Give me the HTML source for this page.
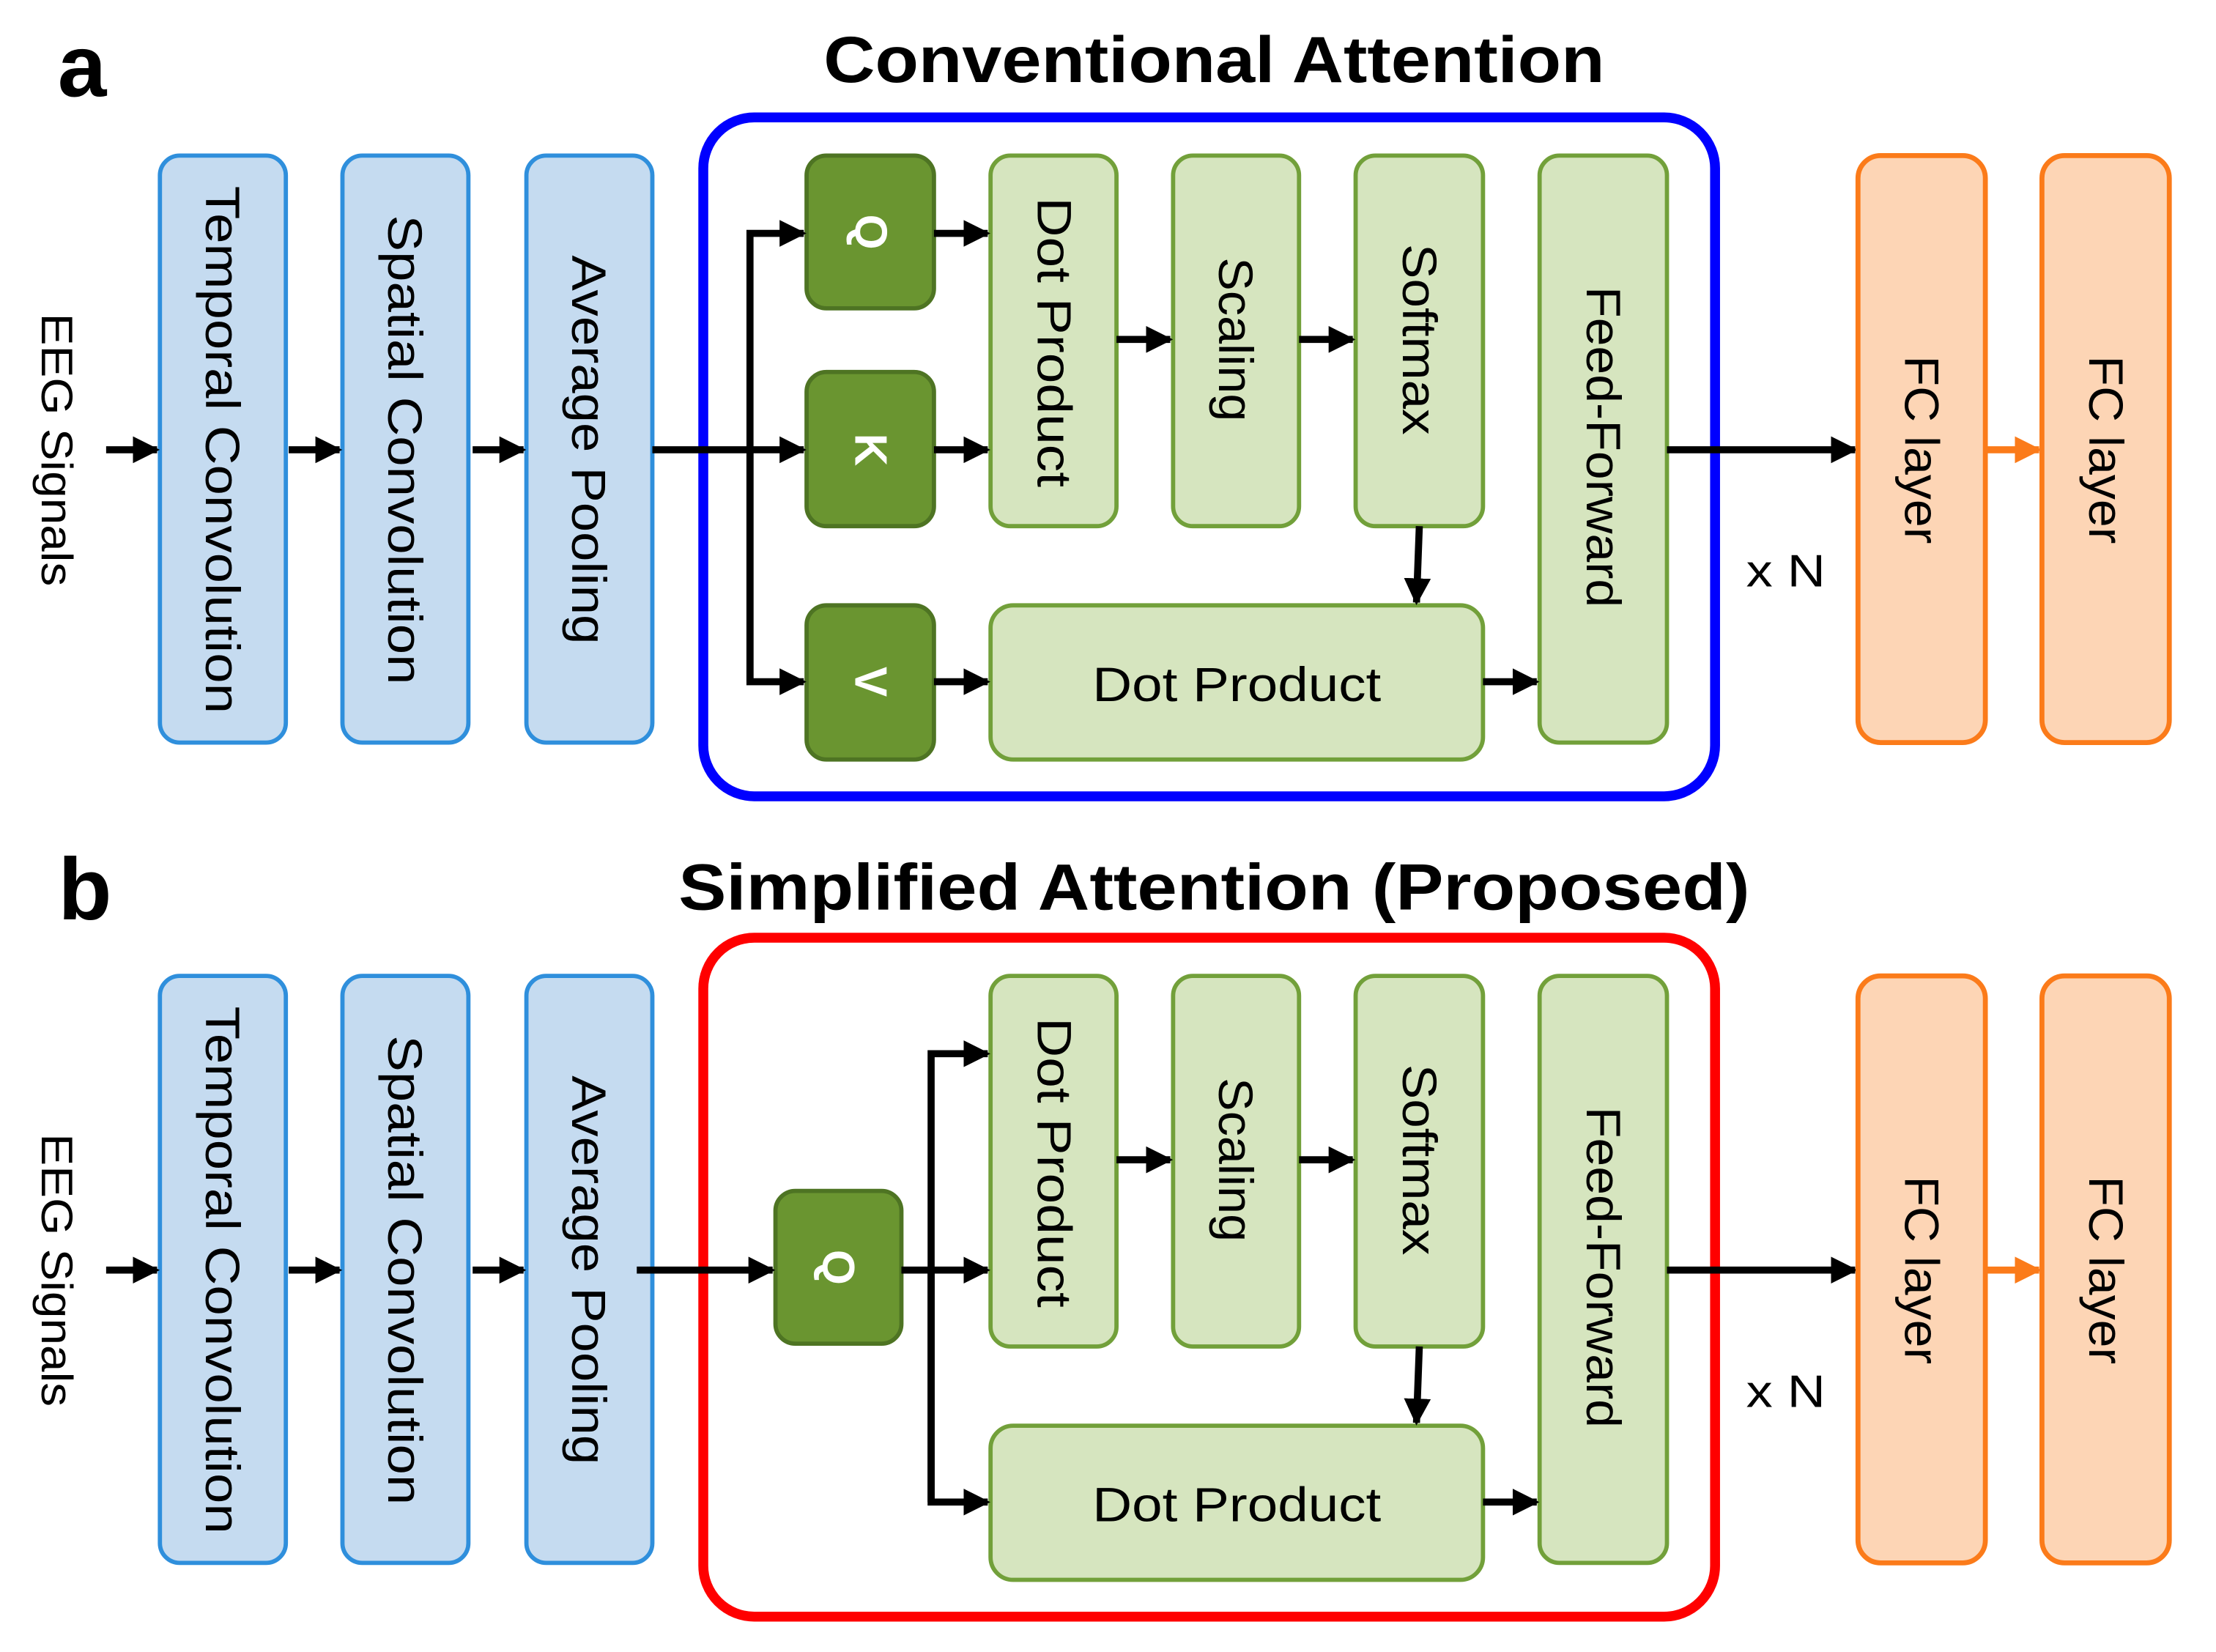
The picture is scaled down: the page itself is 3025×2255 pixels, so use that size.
<!DOCTYPE html>
<html><head><meta charset="utf-8"><style>
html,body{margin:0;padding:0;background:#fff}
svg{display:block}
text{font-family:"Liberation Sans",sans-serif}
</style></head><body>
<svg width="3025" height="2255" viewBox="0 0 1566 1168" preserveAspectRatio="none" xmlns="http://www.w3.org/2000/svg">
<defs>
<marker id="ab" viewBox="0 0 10 10" refX="9" refY="5" markerWidth="3.8" markerHeight="3.8" orient="auto" markerUnits="strokeWidth"><path d="M0,0 L10,5 L0,10 z" fill="#000"/></marker>
<marker id="ao" viewBox="0 0 10 10" refX="9" refY="5" markerWidth="3.8" markerHeight="3.8" orient="auto" markerUnits="strokeWidth"><path d="M0,0 L10,5 L0,10 z" fill="#fb7b1a"/></marker>
<g id="panel">
  <text x="0" y="0" transform="translate(40,318) rotate(90)" text-anchor="middle" dominant-baseline="central" font-size="31" textLength="193" lengthAdjust="spacingAndGlyphs">EEG Signals</text>
  <g fill="#c5dbf0" stroke="#2f8fdc" stroke-width="3">
    <rect x="113" y="110" width="89" height="415" rx="14"/>
    <rect x="242" y="110" width="89" height="415" rx="14"/>
    <rect x="372" y="110" width="89" height="415" rx="14"/>
  </g>
  <text transform="translate(157,318) rotate(90)" text-anchor="middle" dominant-baseline="central" font-size="34" textLength="373" lengthAdjust="spacingAndGlyphs">Temporal Convolution</text>
  <text transform="translate(286,318) rotate(90)" text-anchor="middle" dominant-baseline="central" font-size="34" textLength="332" lengthAdjust="spacingAndGlyphs">Spatial Convolution</text>
  <text transform="translate(416,318) rotate(90)" text-anchor="middle" dominant-baseline="central" font-size="34" textLength="275" lengthAdjust="spacingAndGlyphs">Average Pooling</text>
  <g stroke="#000" stroke-width="5" fill="none">
    <line x1="75" y1="318" x2="111" y2="318" marker-end="url(#ab)"/>
    <line x1="204" y1="318" x2="240" y2="318" marker-end="url(#ab)"/>
    <line x1="334" y1="318" x2="370" y2="318" marker-end="url(#ab)"/>
  </g>
  <g fill="#d6e5bf" stroke="#72a03a" stroke-width="3">
    <rect x="700" y="110" width="89" height="262" rx="14"/>
    <rect x="829" y="110" width="89" height="262" rx="14"/>
    <rect x="958" y="110" width="90" height="262" rx="14"/>
    <rect x="1088" y="110" width="90" height="415" rx="14"/>
    <rect x="700" y="428" width="348" height="109" rx="16"/>
  </g>
  <text transform="translate(745,242) rotate(90)" text-anchor="middle" dominant-baseline="central" font-size="34" textLength="205" lengthAdjust="spacingAndGlyphs">Dot Product</text>
  <text transform="translate(873,240) rotate(90)" text-anchor="middle" dominant-baseline="central" font-size="34" textLength="116" lengthAdjust="spacingAndGlyphs">Scaling</text>
  <text transform="translate(1003,240) rotate(90)" text-anchor="middle" dominant-baseline="central" font-size="34" textLength="135" lengthAdjust="spacingAndGlyphs">Softmax</text>
  <text transform="translate(1133,316) rotate(90)" text-anchor="middle" dominant-baseline="central" font-size="34" textLength="227" lengthAdjust="spacingAndGlyphs">Feed-Forward</text>
  <text x="874" y="484" text-anchor="middle" dominant-baseline="central" font-size="34" textLength="204" lengthAdjust="spacingAndGlyphs">Dot Product</text>
  <g stroke="#000" stroke-width="5" fill="none">
    <line x1="789" y1="240" x2="827" y2="240" marker-end="url(#ab)"/>
    <line x1="918" y1="240" x2="956" y2="240" marker-end="url(#ab)"/>
    <line x1="1003" y1="372" x2="1001" y2="426" marker-end="url(#ab)"/>
    <line x1="1048" y1="482" x2="1086" y2="482" marker-end="url(#ab)"/>
    <line x1="1178" y1="318" x2="1311" y2="318" marker-end="url(#ab)"/>
  </g>
  <text x="1262" y="404" text-anchor="middle" dominant-baseline="central" font-size="32" textLength="56" lengthAdjust="spacingAndGlyphs">x N</text>
  <g fill="#fdd5b5" stroke="#fb7b1a" stroke-width="3.5">
    <rect x="1313" y="110" width="90" height="415" rx="16"/>
    <rect x="1443" y="110" width="90" height="415" rx="16"/>
  </g>
  <text transform="translate(1358,318) rotate(90)" text-anchor="middle" dominant-baseline="central" font-size="34" textLength="133" lengthAdjust="spacingAndGlyphs">FC layer</text>
  <text transform="translate(1488,318) rotate(90)" text-anchor="middle" dominant-baseline="central" font-size="34" textLength="133" lengthAdjust="spacingAndGlyphs">FC layer</text>
  <line x1="1403" y1="318" x2="1441" y2="318" stroke="#fb7b1a" stroke-width="5" marker-end="url(#ao)"/>
</g>
</defs>

<!-- Panel a -->
<text x="58" y="68" text-anchor="middle" font-size="62" font-weight="bold">a</text>
<text x="858" y="58" text-anchor="middle" font-size="46" font-weight="bold" textLength="552" lengthAdjust="spacingAndGlyphs">Conventional Attention</text>
<rect x="497" y="83" width="715" height="480" rx="36" fill="none" stroke="#0000ff" stroke-width="7"/>
<use href="#panel"/>
<g fill="#6a9530" stroke="#4e7423" stroke-width="3">
  <rect x="570" y="110" width="90" height="108" rx="14"/>
  <rect x="570" y="263" width="90" height="109" rx="14"/>
  <rect x="570" y="428" width="90" height="109" rx="14"/>
</g>
<g fill="#fff" font-weight="bold" font-size="32">
  <text transform="translate(615,164) rotate(90)" text-anchor="middle" dominant-baseline="central">Q</text>
  <text transform="translate(615,318) rotate(90)" text-anchor="middle" dominant-baseline="central">K</text>
  <text transform="translate(615,482) rotate(90)" text-anchor="middle" dominant-baseline="central">V</text>
</g>
<g stroke="#000" stroke-width="5" fill="none">
  <line x1="461" y1="318" x2="568" y2="318" marker-end="url(#ab)"/>
  <polyline points="530,482 530,165 568,165" marker-end="url(#ab)"/>
  <polyline points="530,318 530,482 568,482" marker-end="url(#ab)"/>
  <line x1="660" y1="165" x2="698" y2="165" marker-end="url(#ab)"/>
  <line x1="660" y1="318" x2="698" y2="318" marker-end="url(#ab)"/>
  <line x1="660" y1="482" x2="698" y2="482" marker-end="url(#ab)"/>
</g>

<!-- Panel b -->
<text x="60" y="650" text-anchor="middle" font-size="62" font-weight="bold">b</text>
<text x="858" y="643" text-anchor="middle" font-size="46" font-weight="bold" textLength="757" lengthAdjust="spacingAndGlyphs">Simplified Attention (Proposed)</text>
<rect x="497" y="663" width="715" height="480" rx="36" fill="none" stroke="#ff0000" stroke-width="7"/>
<g transform="translate(0,580)"><use href="#panel"/></g>
<rect x="548" y="842" width="89" height="108" rx="14" fill="#6a9530" stroke="#4e7423" stroke-width="3"/>
<text transform="translate(592,896) rotate(90)" text-anchor="middle" dominant-baseline="central" fill="#fff" font-weight="bold" font-size="32">Q</text>
<g stroke="#000" stroke-width="5" fill="none">
  <line x1="450" y1="898" x2="546" y2="898" marker-end="url(#ab)"/>
  <line x1="637" y1="898" x2="698" y2="898" marker-end="url(#ab)"/>
  <polyline points="658,1062 658,745 698,745" marker-end="url(#ab)"/>
  <polyline points="658,898 658,1062 698,1062" marker-end="url(#ab)"/>
</g>
</svg>
</body></html>
